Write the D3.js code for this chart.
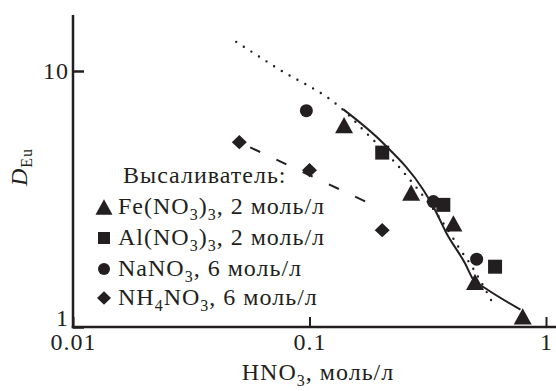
<!DOCTYPE html>
<html>
<head>
<meta charset="utf-8">
<script src="https://cdn.jsdelivr.net/npm/d3@7"></script>
<style>
  body { margin: 0; background: #fff; }
</style>
</head>
<body>
<svg id="chart" width="556" height="391" font-family="Liberation Serif"></svg>
<script>
var width = 556, height = 391;

// data (HNO3 mol/l, D_Eu)
var feX = [0.140, 0.269, 0.406, 0.501, 0.797];
var feD = [6.15, 3.35, 2.54, 1.50, 1.10];
var alX = [0.203, 0.368, 0.609];
var alD = [4.80, 3.00, 1.72];
var naX = [0.097, 0.334, 0.509];
var naD = [7.0, 3.09, 1.84];
var nhX = [0.0505, 0.100, 0.203];
var nhD = [5.27, 4.10, 2.39];

// solid curve, dotted curve, dashed line
var solidX = [0.139, 0.205, 0.303, 0.334, 0.380, 0.455, 0.493, 0.552, 0.780];
var solidD = [7.08, 5.22, 3.43, 2.95, 2.32, 1.77, 1.53, 1.42, 1.17];
var dotX = [0.049, 0.0725, 0.139, 0.169, 0.245, 0.393, 0.433, 0.477, 0.595];
var dotD = [13.0, 10.3, 7.04, 5.88, 4.11, 2.32, 2.01, 1.77, 1.24];
var dashX = [0.0505, 0.192];
var dashD = [5.27, 2.95];

var xTicks = [0.01, 0.1, 1];
var xTickLabels = ["0.01", "0.1", "1"];
var yTicks = [1, 10];
var yTickLabels = ["1", "10"];

var ink = "#231f20";
var serif = "'Liberation Serif', 'Times New Roman', Times, serif";
var fs = 24, subFs = 16;

var svg = d3.select("#chart");

var x = d3.scaleLog().domain([0.01, 1]).range([73, 546]);
var y = d3.scaleLog().domain([1, 10]).range([327, 71]);

// marker shapes, sized by box width
var tri = { draw: function(c, w) { var h = w * 0.9; c.moveTo(0, -h / 2); c.lineTo(w / 2, h / 2); c.lineTo(-w / 2, h / 2); c.closePath(); } };
var sq = { draw: function(c, w) { c.rect(-w / 2, -w / 2, w, w); } };
var circ = { draw: function(c, w) { c.moveTo(w / 2, 0); c.arc(0, 0, w / 2, 0, 2 * Math.PI); } };
var dia = { draw: function(c, w) { var h = w * 0.95; c.moveTo(0, -h / 2); c.lineTo(w / 2, 0); c.lineTo(0, h / 2); c.lineTo(-w / 2, 0); c.closePath(); } };

var line = d3.line()
    .x(function(d) { return x(d[0]); })
    .y(function(d) { return y(d[1]); })
    .curve(d3.curveMonotoneX);

// curves
svg.append("path")
    .attr("d", line(d3.zip(dotX, dotD)))
    .attr("fill", "none").attr("stroke", ink)
    .attr("stroke-width", 2.4).attr("stroke-linecap", "round")
    .attr("stroke-dasharray", "0,9");

svg.append("path")
    .attr("d", line(d3.zip(solidX, solidD)))
    .attr("fill", "none").attr("stroke", ink).attr("stroke-width", 2);

svg.append("path")
    .attr("d", d3.line().x(function(d) { return x(d[0]); }).y(function(d) { return y(d[1]); })(d3.zip(dashX, dashD)))
    .attr("fill", "none").attr("stroke", ink).attr("stroke-width", 2)
    .attr("stroke-dasharray", "0,12,11,6");

// points
var series = [
  { xs: feX, ys: feD, type: tri, size: 18 },
  { xs: alX, ys: alD, type: sq, size: 14 },
  { xs: naX, ys: naD, type: circ, size: 13 },
  { xs: nhX, ys: nhD, type: dia, size: 15 }
];
series.forEach(function(s) {
  svg.selectAll(null)
      .data(d3.zip(s.xs, s.ys))
    .enter().append("path")
      .attr("d", d3.symbol().type(s.type).size(s.size))
      .attr("transform", function(d) { return "translate(" + x(d[0]) + "," + y(d[1]) + ")"; })
      .attr("fill", ink);
});

// axes
var xAxis = svg.append("g")
    .attr("transform", "translate(0,327)")
    .call(d3.axisBottom(x).tickValues(xTicks).tickSize(-10).tickPadding(6)
      .tickFormat(function(d, i) { return xTickLabels[i]; }));
xAxis.select(".domain").remove();
xAxis.selectAll("line").attr("stroke", ink).attr("stroke-width", 2);
xAxis.selectAll("text").attr("font-size", fs).attr("fill", ink);

var yAxis = svg.append("g")
    .attr("transform", "translate(73,0)")
    .call(d3.axisLeft(y).tickValues(yTicks).tickSize(-11).tickPadding(4)
      .tickFormat(function(d, i) { return yTickLabels[i]; }));
yAxis.select(".domain").remove();
yAxis.selectAll("line").attr("stroke", ink).attr("stroke-width", 2.5);
yAxis.selectAll("text").attr("font-size", fs).attr("fill", ink)
    .filter(function(d) { return d === 1; }).attr("dy", "-0.05em");

svg.append("line")
    .attr("x1", 71.75).attr("x2", 556).attr("y1", 327).attr("y2", 327)
    .attr("stroke", ink).attr("stroke-width", 2.5);
svg.append("line")
    .attr("x1", 73).attr("x2", 73).attr("y1", 15).attr("y2", 328.25)
    .attr("stroke", ink).attr("stroke-width", 2.5);

// axis titles
var xt = svg.append("text")
    .attr("x", 318).attr("y", 380)
    .attr("text-anchor", "middle")
    .attr("font-size", fs).attr("fill", ink);
xt.append("tspan").text("HNO");
xt.append("tspan").attr("dy", 6).attr("font-size", subFs).text("3");
xt.append("tspan").attr("dy", -6).text(", моль/л");

var yt = svg.append("text")
    .attr("transform", "translate(27,167) rotate(-90)")
    .attr("text-anchor", "middle")
    .attr("font-size", fs).attr("fill", ink);
yt.append("tspan").attr("font-style", "italic").text("D");
yt.append("tspan").attr("dy", 5).attr("font-size", subFs).text("Eu");

// legend
var legendNames = [
  ["Fe(NO", "3", ")", "3", ", 2 моль/л"],
  ["Al(NO", "3", ")", "3", ", 2 моль/л"],
  ["NaNO", "3", ", 6 моль/л"],
  ["NH", "4", "NO", "3", ", 6 моль/л"]
];
var legendY = [214, 245, 276, 305];
var legendMarkerSize = [17, 12, 12, 14];

svg.append("text")
    .attr("x", 123).attr("y", 183)
    .attr("font-size", fs).attr("fill", ink)
    .text("Высаливатель:");

series.forEach(function(s, i) {
  svg.append("path")
      .attr("d", d3.symbol().type(s.type).size(legendMarkerSize[i]))
      .attr("transform", "translate(104," + (legendY[i] - 7) + ")")
      .attr("fill", ink);
  var t = svg.append("text")
      .attr("x", 118).attr("y", legendY[i])
      .attr("font-size", fs).attr("fill", ink);
  legendNames[i].forEach(function(part, j) {
    var sub = j % 2 === 1;
    t.append("tspan")
        .attr("dy", sub ? 6 : (j > 0 ? -6 : 0))
        .attr("font-size", sub ? subFs : fs)
        .text(part);
  });
});

// serif face on every text, set a little wide like the print
svg.selectAll("g").attr("font-family", null);
svg.selectAll("text").style("font-family", serif).style("letter-spacing", "1px");
</script>
</body>
</html>
